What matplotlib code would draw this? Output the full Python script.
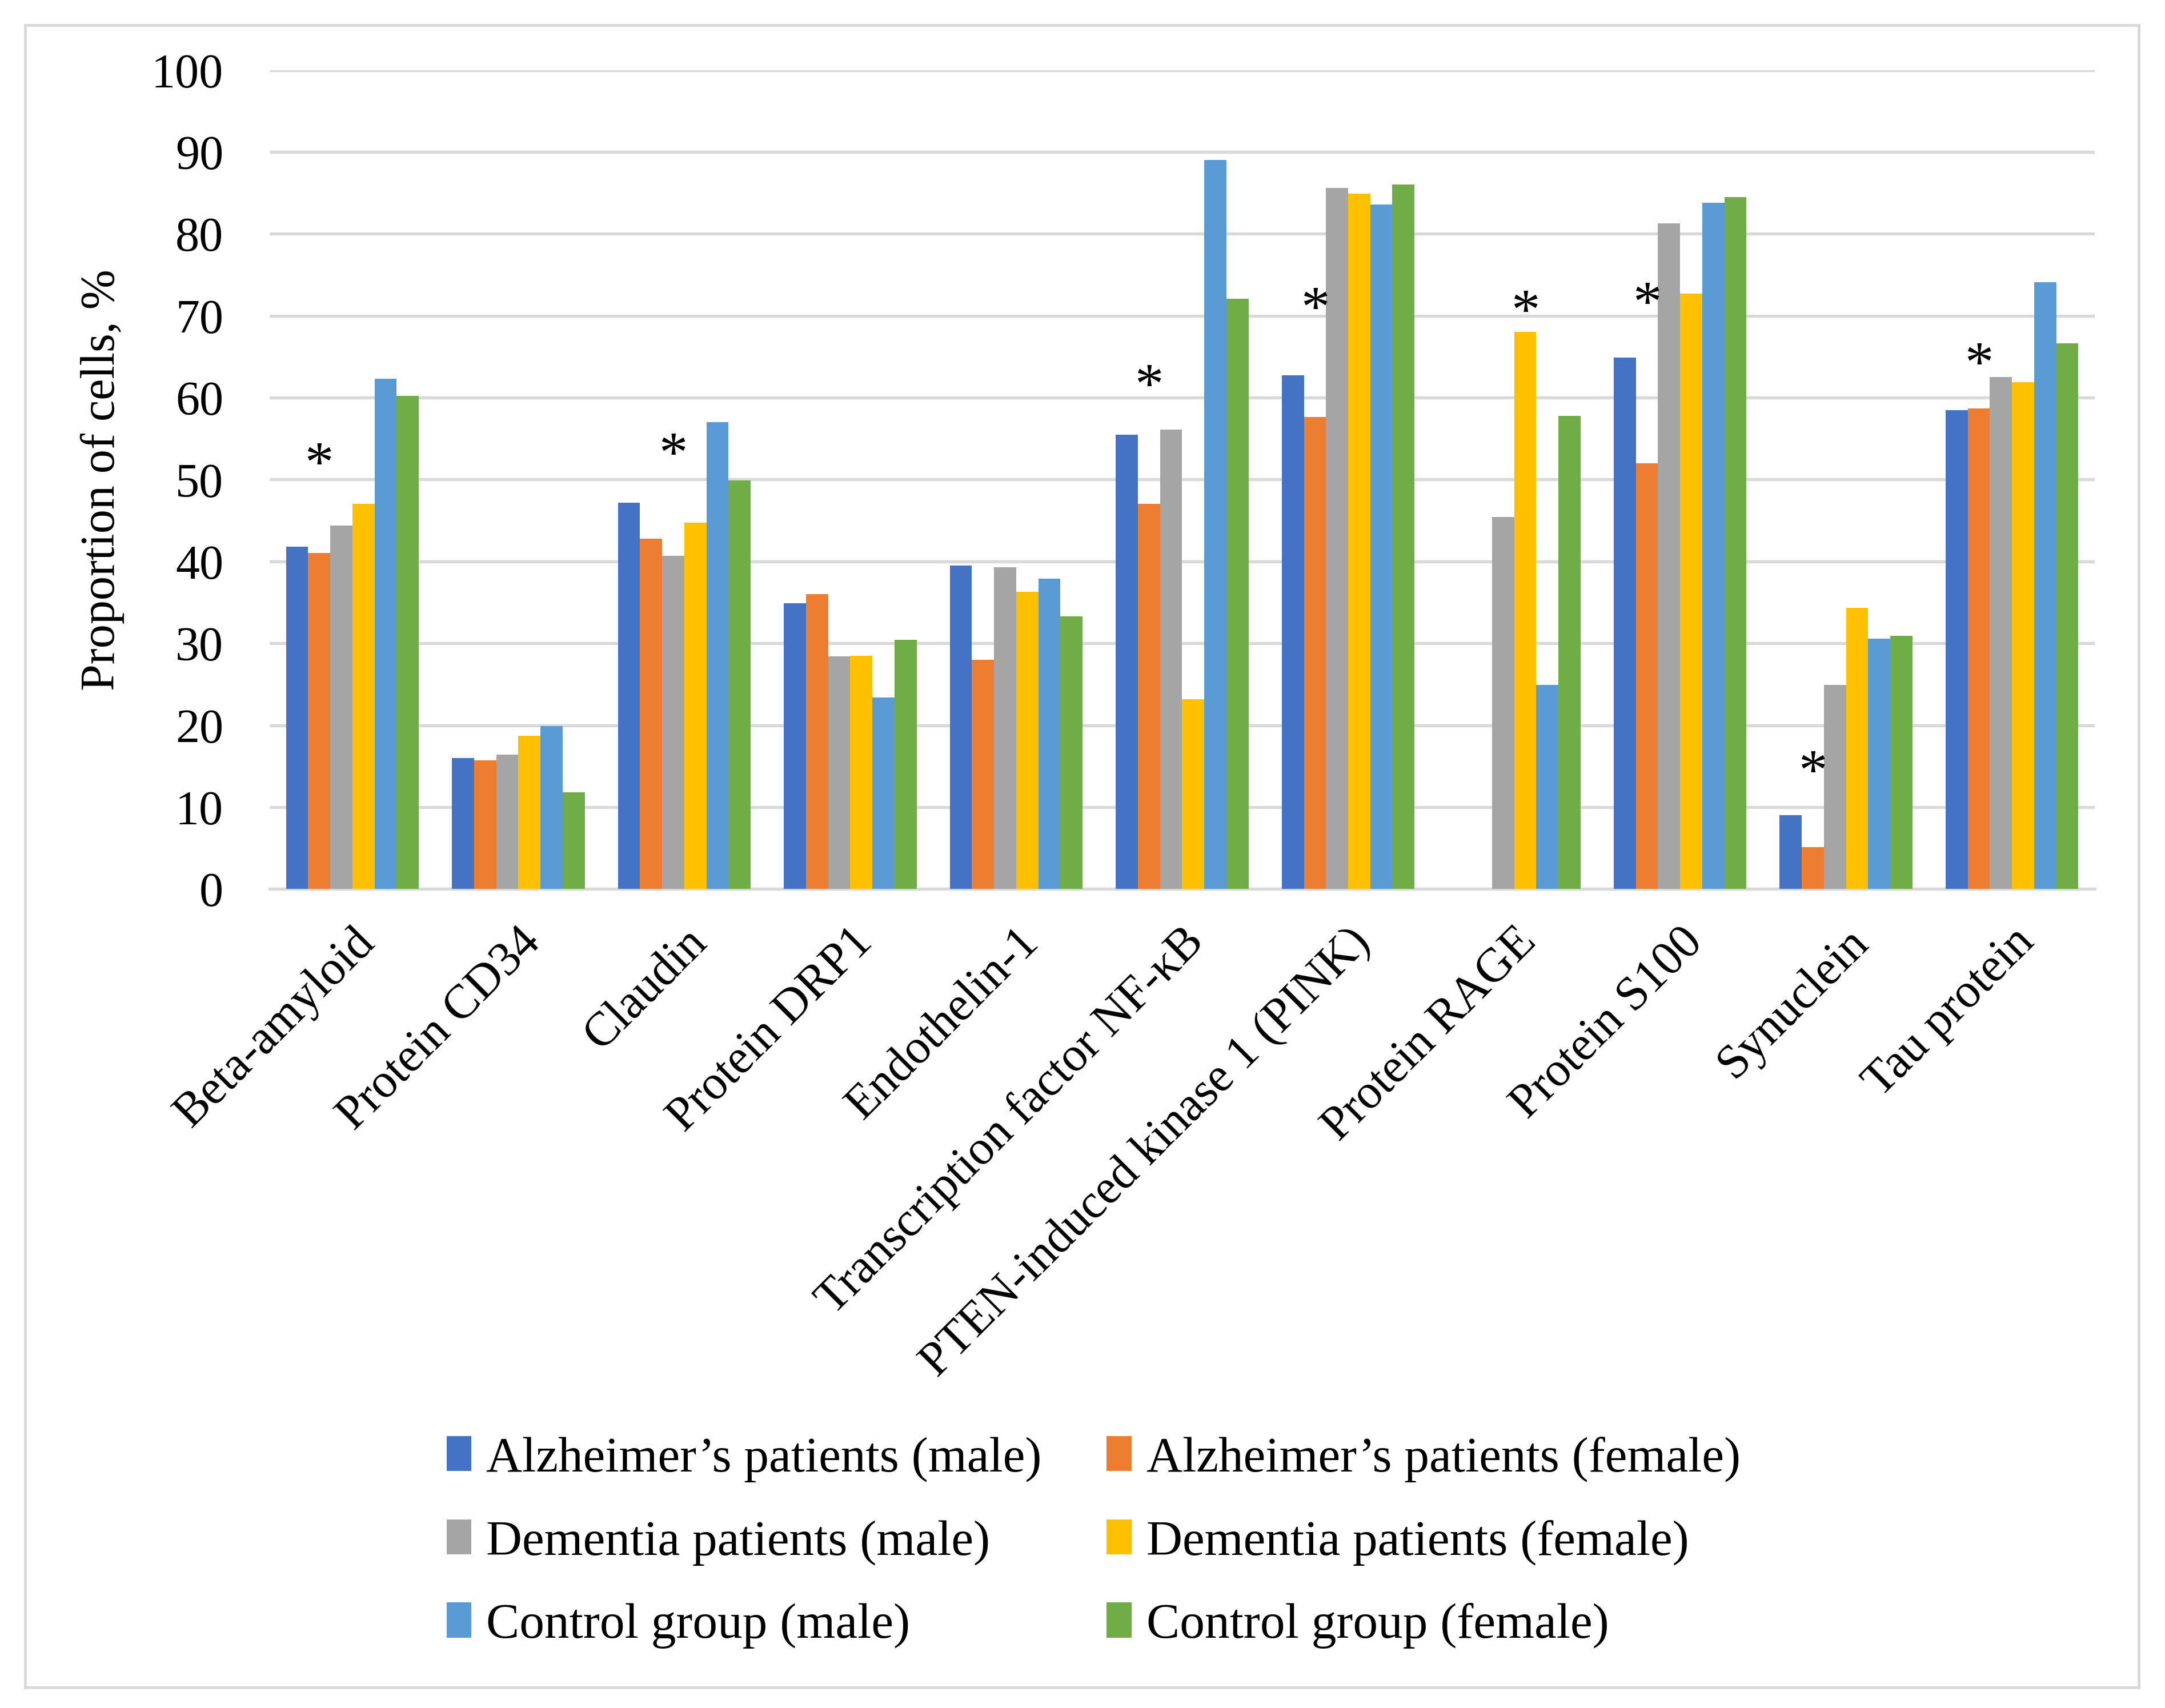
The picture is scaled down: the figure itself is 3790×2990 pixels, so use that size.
import matplotlib
matplotlib.use("Agg")
import matplotlib.pyplot as plt
import matplotlib.patches as mpatches
import numpy as np

plt.rcParams['font.family'] = ['Liberation Serif', 'DejaVu Serif']

categories = ["Beta-amyloid", "Protein CD34", "Claudin", "Protein DRP1", "Endothelin-1",
              "Transcription factor NF-κB", "PTEN-induced kinase 1 (PINK)", "Protein RAGE",
              "Protein S100", "Synuclein", "Tau protein"]

series_names = ["Alzheimer’s patients (male)", "Alzheimer’s patients (female)",
                "Dementia patients (male)", "Dementia patients (female)",
                "Control group (male)", "Control group (female)"]

alz_male = [41.8, 16.0, 47.2, 34.9, 39.5, 55.5, 62.7, 0, 64.9, 9.0, 58.5]
alz_female = [41.0, 15.7, 42.8, 36.0, 28.0, 47.0, 57.6, 0, 52.0, 5.1, 58.7]
dem_male = [44.4, 16.4, 40.7, 28.4, 39.3, 56.1, 85.6, 45.4, 81.3, 24.9, 62.5]
dem_female = [47.0, 18.7, 44.7, 28.5, 36.3, 23.2, 84.9, 68.0, 72.7, 34.3, 61.9]
ctrl_male = [62.3, 19.9, 57.0, 23.4, 37.9, 89.0, 83.6, 24.9, 83.8, 30.6, 74.1]
ctrl_female = [60.2, 11.8, 49.9, 30.4, 33.3, 72.1, 86.0, 57.8, 84.5, 30.9, 66.6]

# significance marks: (category index, bar index, height)
stars = [(0, 1, 51.6), (2, 2, 52.8), (5, 1, 61.2), (6, 1, 70.6), (7, 3, 70.2),
         (8, 1, 71.2), (9, 1, 14.0), (10, 1, 63.8)]

colors = ["#4472C4", "#ED7D31", "#A5A5A5", "#FFC000", "#5B9BD5", "#70AD47"]

data = [alz_male, alz_female, dem_male, dem_female, ctrl_male, ctrl_female]

fig = plt.figure(figsize=(15.68, 12.37), dpi=241.77)
ax = fig.add_axes([0.1244, 0.4794, 0.843, 0.4794])

x = np.arange(len(categories))
w = 0.8 / 6
bars = []
for i, vals in enumerate(data):
    b = ax.bar(x - 0.4 + w * (i + 0.5), vals, width=w, color=colors[i],
               label=series_names[i], zorder=3)
    bars.append(b)

for ci, bi, h in stars:
    ax.text(ci - 0.4 + w * (bi + 0.5), h, "*", ha='center', va='center',
            fontsize=30, zorder=4)

ax.set_ylim(0, 100)
ax.set_xlim(-0.5, 10.5)
ax.set_yticks(range(0, 101, 10))
ax.yaxis.grid(True, color="#D9D9D9", linewidth=1.6, zorder=0)
ax.set_axisbelow(True)
for s in ["top", "right", "left"]:
    ax.spines[s].set_visible(False)
ax.spines["bottom"].set_color("#D9D9D9")
ax.spines["bottom"].set_linewidth(1.6)
ax.tick_params(axis='both', length=0, labelsize=25)
ax.tick_params(axis='y', pad=24)
ax.set_xticks(x)
ax.set_xticklabels(categories, rotation=45, ha='right', rotation_mode='anchor')
ax.tick_params(axis='x', pad=16)
ax.set_ylabel("Proportion of cells, %", fontsize=25, labelpad=14)

# legend filled row by row
order = [0, 2, 4, 1, 3, 5]
leg = fig.legend([bars[i] for i in order], [series_names[i] for i in order],
                 loc='center', bbox_to_anchor=(0.505, 0.097), ncol=2, frameon=False,
                 fontsize=26, handlelength=0.5, handleheight=0.7, handletextpad=0.3,
                 columnspacing=1.3, labelspacing=0.75)

fig.patches.append(mpatches.Rectangle((0.0115, 0.012), 0.976, 0.973, transform=fig.transFigure,
                                      fill=False, edgecolor="#D9D9D9", linewidth=1.5))

fig.savefig("out.png", dpi=241.77)
